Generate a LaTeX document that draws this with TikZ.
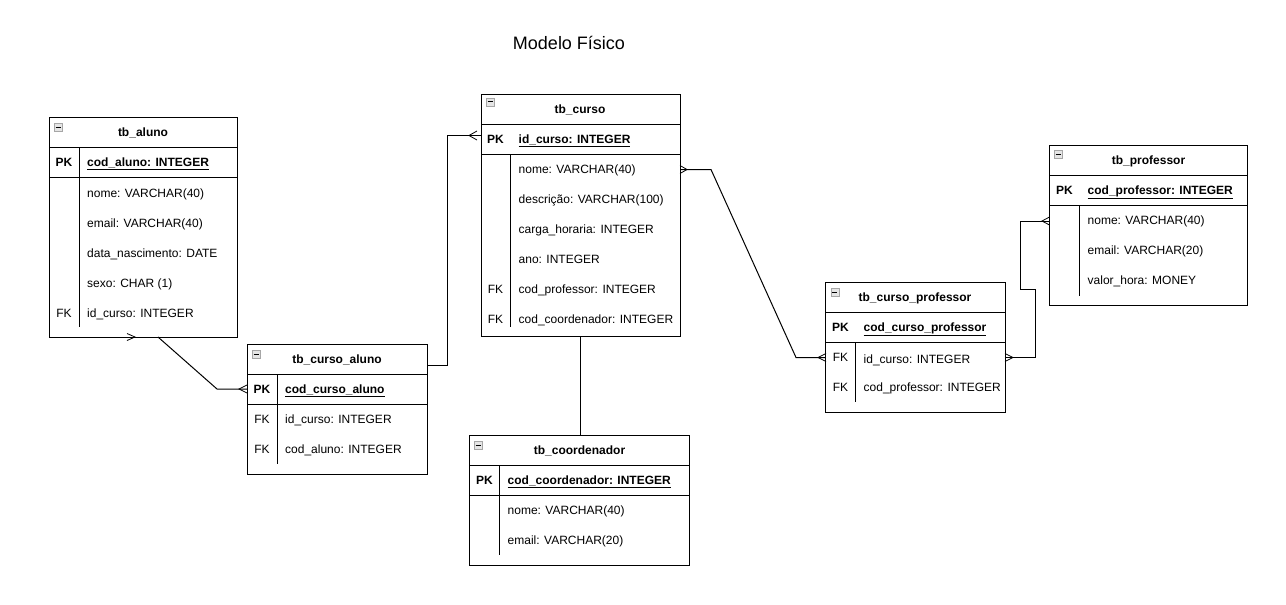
\documentclass[tikz,border=0pt]{standalone}
\usepackage{fontspec}
\setmainfont{Liberation Sans}
\begin{document}
\begin{tikzpicture}[x=1pt,y=-1pt,
  tbl/.style={draw=black,line width=1pt,fill=white,inner sep=0,outer sep=0,anchor=north west},
  ln/.style={draw=black,line width=1pt},
  conn/.style={draw=black,line width=1pt},
  crow/.style={draw=black,line width=0.8pt},
  fld/.style={anchor=west,inner sep=0,font=\fontsize{12}{14}\selectfont,text height=8.6,text depth=0},
  key/.style={anchor=center,inner sep=0,font=\fontsize{12}{14}\selectfont,text height=8.6,text depth=0},
  ttl/.style={anchor=center,inner sep=0,font=\fontsize{12}{14}\selectfont\bfseries,text height=8.6,text depth=0},
  ico/.style={draw=gray!70,fill=gray!20,line width=0.6pt,minimum width=8,minimum height=8,inner sep=0,anchor=north west}
]
\useasboundingbox[fill=white] (0,0) rectangle (1286,605);
\newcommand{\icon}[3]{\node[ico] (#1) at (#2,#3) {}; \draw[line width=1pt] ($(#1.center)+(-2.5,0)$) -- ($(#1.center)+(2.5,0)$);}
% title
\node[anchor=center,inner sep=0,font=\fontsize{18}{20}\selectfont] (title) at (569,43) {Modelo Físico};

% ---------- tb_aluno ----------
\node[tbl,minimum width=188,minimum height=220] (aluno) at (49,117) {};
\draw[ln] (49,147) -- (237,147); \draw[ln] (49,177) -- (237,177); \draw[ln] (79,147) -- (79,327);
\node[ico] (aluno-i) at (54,123) {}; \draw[line width=1pt] (55.5,127) -- (60.5,127);
\node[ttl] (aluno-t) at (143,132) {tb\_aluno};
\node[key,font=\fontsize{12}{14}\selectfont\bfseries] (aluno-pk) at (64,162) {PK};
\node[fld,font=\fontsize{12}{14}\selectfont\bfseries] (aluno-f0) at (87,162) {\underline{cod\_aluno: INTEGER}};
\node[fld] (aluno-f1) at (87,193) {nome: VARCHAR(40)};
\node[fld] (aluno-f2) at (87,223) {email: VARCHAR(40)};
\node[fld] (aluno-f3) at (87,253) {data\_nascimento: DATE};
\node[fld] (aluno-f4) at (87,283) {sexo: CHAR (1)};
\node[key] (aluno-fk) at (64,313) {FK};
\node[fld] (aluno-f5) at (87,313) {id\_curso: INTEGER};

% ---------- tb_curso_aluno ----------
\node[tbl,minimum width=180,minimum height=130] (ca) at (247,344) {};
\draw[ln] (247,374) -- (427,374); \draw[ln] (247,404) -- (427,404); \draw[ln] (277,374) -- (277,464);
\node[ico] (ca-i) at (252,350) {}; \draw[line width=1pt] (253.5,354) -- (258.5,354);
\node[ttl] (ca-t) at (337,359) {tb\_curso\_aluno};
\node[key,font=\fontsize{12}{14}\selectfont\bfseries] (ca-pk) at (262,389) {PK};
\node[fld,font=\fontsize{12}{14}\selectfont\bfseries] (ca-f0) at (285,389) {\underline{cod\_curso\_aluno}};
\node[key] (ca-fk1) at (262,419) {FK};
\node[fld] (ca-f1) at (285,419) {id\_curso: INTEGER};
\node[key] (ca-fk2) at (262,449) {FK};
\node[fld] (ca-f2) at (285,449) {cod\_aluno: INTEGER};

% ---------- tb_curso ----------
\node[tbl,minimum width=199,minimum height=242] (curso) at (481,94.5) {};
\draw[ln] (481,124.5) -- (680,124.5); \draw[ln] (481,154.5) -- (680,154.5); \draw[ln] (510,154.5) -- (510,327);
\node[ico] (curso-i) at (486,97.5) {}; \draw[line width=1pt] (487.5,101.5) -- (492.5,101.5);
\node[ttl] (curso-t) at (580,109.5) {tb\_curso};
\node[key,font=\fontsize{12}{14}\selectfont\bfseries] (curso-pk) at (495.5,139.5) {PK};
\node[fld,font=\fontsize{12}{14}\selectfont\bfseries] (curso-f0) at (518.5,139.5) {\underline{id\_curso: INTEGER}};
\node[fld] (curso-f1) at (518.5,169.5) {nome: VARCHAR(40)};
\node[fld] (curso-f2) at (518.5,199.5) {descrição: VARCHAR(100)};
\node[fld] (curso-f3) at (518.5,229.5) {carga\_horaria: INTEGER};
\node[fld] (curso-f4) at (518.5,259.5) {ano: INTEGER};
\node[key] (curso-fk1) at (495.5,289.5) {FK};
\node[fld] (curso-f5) at (518.5,289.5) {cod\_professor: INTEGER};
\node[key] (curso-fk2) at (495.5,319.5) {FK};
\node[fld] (curso-f6) at (518.5,319.5) {cod\_coordenador: INTEGER};

% ---------- tb_coordenador ----------
\node[tbl,minimum width=220,minimum height=129.5] (coord) at (469.5,435.5) {};
\draw[ln] (469.5,465.5) -- (689.5,465.5); \draw[ln] (469.5,495) -- (689.5,495); \draw[ln] (499.5,465.5) -- (499.5,555);
\node[ico] (coord-i) at (474,441) {}; \draw[line width=1pt] (475.5,445) -- (480.5,445);
\node[ttl] (coord-t) at (579.5,450.5) {tb\_coordenador};
\node[key,font=\fontsize{12}{14}\selectfont\bfseries] (coord-pk) at (484.5,480.5) {PK};
\node[fld,font=\fontsize{12}{14}\selectfont\bfseries] (coord-f0) at (507.5,480.5) {\underline{cod\_coordenador: INTEGER}};
\node[fld] (coord-f1) at (507.5,510.5) {nome: VARCHAR(40)};
\node[fld] (coord-f2) at (507.5,540.5) {email: VARCHAR(20)};

% ---------- tb_curso_professor ----------
\node[tbl,minimum width=179.5,minimum height=129.5] (cp) at (825.5,282.5) {};
\draw[ln] (825.5,312.5) -- (1005,312.5); \draw[ln] (825.5,342.5) -- (1005,342.5); \draw[ln] (855.5,342.5) -- (855.5,402);
\node[ico] (cp-i) at (830.5,288) {}; \draw[line width=1pt] (832,292) -- (837,292);
\node[ttl] (cp-t) at (915,297.5) {tb\_curso\_professor};
\node[key,font=\fontsize{12}{14}\selectfont\bfseries] (cp-pk) at (840.5,327.5) {PK};
\node[fld,font=\fontsize{12}{14}\selectfont\bfseries] (cp-f0) at (863.5,327.5) {\underline{cod\_curso\_professor}};
\node[key] (cp-fk1) at (840.5,357.5) {FK};
\node[fld] (cp-f1) at (863.5,359.5) {id\_curso: INTEGER};
\node[key] (cp-fk2) at (840.5,387.5) {FK};
\node[fld] (cp-f2) at (863.5,387.5) {cod\_professor: INTEGER};

% ---------- tb_professor ----------
\node[tbl,minimum width=198,minimum height=160] (prof) at (1049.5,145.5) {};
\draw[ln] (1049.5,175.5) -- (1247.5,175.5); \draw[ln] (1049.5,205.5) -- (1247.5,205.5); \draw[ln] (1079.5,205.5) -- (1079.5,295.5);
\node[ico] (prof-i) at (1054,150) {}; \draw[line width=1pt] (1055.5,154) -- (1060.5,154);
\node[ttl] (prof-t) at (1148.5,160.5) {tb\_professor};
\node[key,font=\fontsize{12}{14}\selectfont\bfseries] (prof-pk) at (1064.5,190.5) {PK};
\node[fld,font=\fontsize{12}{14}\selectfont\bfseries] (prof-f0) at (1087.5,190.5) {\underline{cod\_professor: INTEGER}};
\node[fld] (prof-f1) at (1087.5,220.5) {nome: VARCHAR(40)};
\node[fld] (prof-f2) at (1087.5,250.5) {email: VARCHAR(20)};
\node[fld] (prof-f3) at (1087.5,280.5) {valor\_hora: MONEY};

% ---------- connection points ----------
\coordinate (p-aluno) at (158,337);
\coordinate (p-ca-l) at (247,389);
\coordinate (p-ca-r) at (427,365);
\coordinate (p-curso-l) at (481,135.5);
\coordinate (p-curso-r) at (680,169.5);
\coordinate (p-curso-b) at (580,336.5);
\coordinate (p-coord-t) at (580,435.5);
\coordinate (p-cp-l) at (825.5,357.5);
\coordinate (p-cp-r) at (1005,357.5);
\coordinate (p-prof-l) at (1049.5,221);

% ---------- connectors ----------
\draw[conn] (p-aluno) -- (217,389) -- (p-ca-l);
\draw[conn] (p-ca-r) -- (447,365) -- (447,135.5) -- (p-curso-l);
\draw[conn] (p-curso-r) -- (711,169.5) -- (796,357.5) -- (p-cp-l);
\draw[conn] (p-cp-r) -- (1035,357.5) -- (1035,289) -- (1020,289) -- (1020,221) -- (p-prof-l);
\draw[conn] (p-curso-b) -- (p-coord-t);

% ---------- crow's feet ----------
\draw[crow] (127,333.5) -- (135,337) -- (127,340.5);
\draw[crow] (247,385) -- (239,389) -- (247,393);
\draw[crow] (477,131) -- (469,135.5) -- (477,140);
\draw[crow] (680,165.5) -- (687,169.5) -- (680,173.5);
\draw[crow] (826,353.5) -- (818,357.5) -- (826,361.5);
\draw[crow] (1005,353.5) -- (1013,357.5) -- (1005,361.5);
\draw[crow] (1049.5,217) -- (1042,221) -- (1049.5,225);
\end{tikzpicture}
\end{document}
